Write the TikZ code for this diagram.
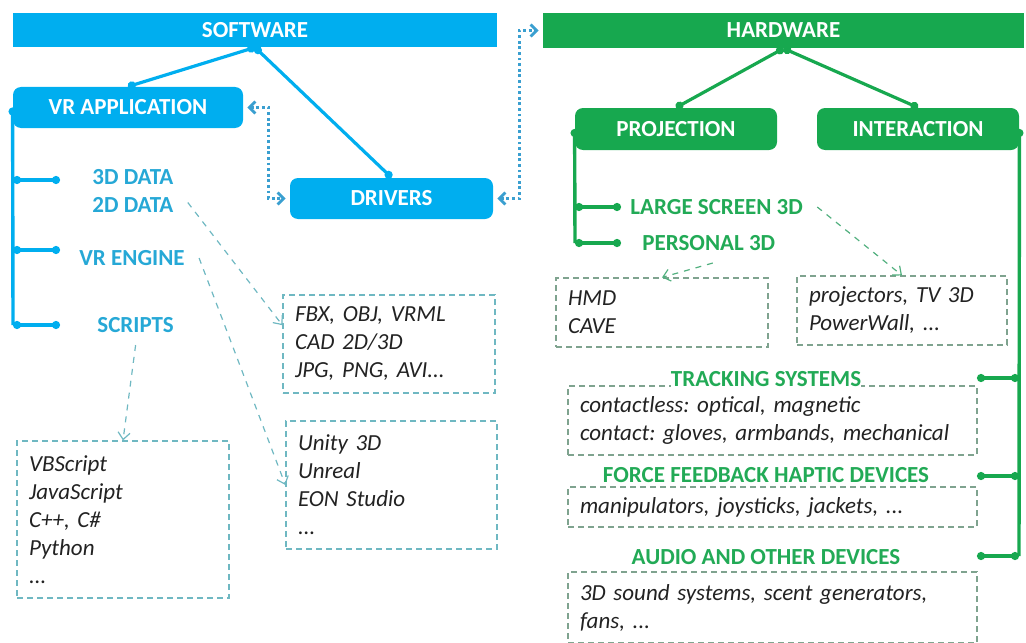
\documentclass[tikz,border=0pt]{standalone}
\usepackage{fontspec}
\setmainfont{Carlito}
\frenchspacing
\usetikzlibrary{arrows.meta}
\definecolor{blau}{HTML}{00AEEF}
\definecolor{blaut}{HTML}{26A8D6}
\definecolor{blaup}{HTML}{3A9FD0}
\definecolor{blauk}{HTML}{6FB8C2}
\definecolor{gruen}{HTML}{17A84F}
\definecolor{gruent}{HTML}{22AA56}
\definecolor{gruenk}{HTML}{7FA38F}
\definecolor{gruenp}{HTML}{52B07F}
\definecolor{schrift}{HTML}{222222}
\tikzset{
  balken/.style={rectangle,text=white,inner sep=0pt,font=\fontsize{11.5}{14}\selectfont\bfseries},
  knoten/.style={balken,rounded corners=4pt},
  marke/.style={inner sep=1pt,align=left,font=\fontsize{11.5}{14}\selectfont\bfseries},
  kasten/.style={draw,dash pattern=on 3pt off 2pt,line width=0.6pt,inner xsep=6pt,inner ysep=0pt,
    align=left,text=schrift,font=\fontsize{11.5}{14}\selectfont\itshape},
  ast/.style={line width=1.7pt},
  zweig/.style={line width=1.6pt,{Circle[length=4pt]}-{Circle[length=4pt]}},
  hinweis/.style={dashed,line width=0.6pt,-{Straight Barb[length=3.5pt,width=6pt]}},
  punkt/.style={blaup,line width=1.4pt,dash pattern=on 1.4pt off 1.4pt,
    {Straight Barb[length=3pt,width=6pt]}-{Straight Barb[length=3pt,width=6pt]},shorten <=2pt,shorten >=2pt},
}
\begin{document}
\begin{tikzpicture}[x=0.5pt,y=-0.5pt]
  \useasboundingbox (0,0) rectangle (1026,642);
  % Software
  \node[balken,fill=blau,minimum width=242pt,minimum height=17pt] (software) at (255,30) {SOFTWARE};
  \node[knoten,fill=blau,minimum width=115pt,minimum height=20.5pt] (vrapp) at (128,107.5) {VR APPLICATION};
  \node[knoten,fill=blau,minimum width=101.5pt,minimum height=20.5pt] (drivers) at (391.5,198.5) {DRIVERS};
  \draw[zweig,blau] (software.south) -- (vrapp.north);
  \draw[zweig,blau] (software.south) -- (drivers.north);
  \draw[punkt] (vrapp.east) -- ++(25,0) |- (drivers.west);
  % Baum VR Application
  \node[marke,blaut,anchor=west] (daten) at (90,191) {3D DATA\\2D DATA};
  \node[marke,blaut,anchor=west] (engine) at (77,258) {VR ENGINE};
  \node[marke,blaut,anchor=west] (skripte) at (95,325) {SCRIPTS};
  \coordinate (l1) at (13,180); \coordinate (l1e) at (60,180);
  \coordinate (l2) at (13,250); \coordinate (l2e) at (60,250);
  \coordinate (l3) at (13,325); \coordinate (l3e) at (60,325);
  \draw[ast,blau,{Circle[length=4pt]}-] (vrapp.west) -- (l3);
  \draw[zweig,blau] (l1) -- (l1e);
  \draw[zweig,blau] (l2) -- (l2e);
  \draw[zweig,blau] (l3) -- (l3e);
  % Kaesten links
  \node[kasten,draw=blauk,text width=94pt,minimum height=49pt] (fbx) at (389,344)
    {FBX, OBJ, VRML\\CAD 2D/3D\\JPG, PNG, AVI...};
  \node[kasten,draw=blauk,text width=93.5pt,minimum height=64pt] (unity) at (391.5,485)
    {Unity 3D\\Unreal\\EON Studio\\...};
  \node[kasten,draw=blauk,text width=94pt,minimum height=78.5pt] (skript) at (123,519.5)
    {VBScript\\JavaScript\\C++, C\#\\Python\\...};
  \draw[hinweis,blauk] ([xshift=6pt]daten.-15) -- (fbx.170);
  \draw[hinweis,blauk] ([xshift=6pt]engine.east) -- (unity.west);
  \draw[hinweis,blauk] ([yshift=-5pt]skripte.south) -- (skript.north);
  % Hardware
  \node[balken,fill=gruen,minimum width=240.5pt,minimum height=17.5pt] (hardware) at (783.5,30.5) {HARDWARE};
  \node[knoten,fill=gruen,minimum width=101pt,minimum height=21pt] (projection) at (676,129) {PROJECTION};
  \node[knoten,fill=gruen,minimum width=101pt,minimum height=21pt] (interaction) at (918,129) {INTERACTION};
  \draw[zweig,gruen] (hardware.south) -- (projection.north);
  \draw[zweig,gruen] (hardware.south) -- (interaction.north);
  \draw[punkt] (drivers.east) -- ++(26,0) |- (hardware.west);
  % Baum Projection
  \node[marke,gruent,anchor=west] (gross) at (628,207) {LARGE SCREEN 3D};
  \node[marke,gruent,anchor=west] (persoenlich) at (640,243) {PERSONAL 3D};
  \coordinate (p1) at (575,207); \coordinate (p1e) at (621,207);
  \coordinate (p2) at (575,243); \coordinate (p2e) at (621,243);
  \draw[ast,gruen,{Circle[length=4pt]}-] (projection.west) -- (p2);
  \draw[zweig,gruen] (p1) -- (p1e);
  \draw[zweig,gruen] (p2) -- (p2e);
  \node[kasten,draw=gruenk,text width=94pt,minimum height=34.5pt] (hmd) at (662,312.5) {HMD\\CAVE};
  \node[kasten,draw=gruenk,text width=93pt,minimum height=34.5pt] (pw) at (902,310.5) {projectors, TV 3D\\PowerWall, ...};
  \draw[hinweis,gruenp] ([xshift=6pt]gross.east) -- (pw.north);
  \draw[hinweis,gruenp] ([xshift=2pt,yshift=-5pt]persoenlich.south) -- (hmd.north);
  % Baum Interaction
  \node[kasten,draw=gruenk,text width=192.5pt,minimum height=34.5pt] (track) at (772.5,420.5)
    {contactless: optical, magnetic\\contact: gloves, armbands, mechanical};
  \node[kasten,draw=gruenk,text width=192.5pt,minimum height=20pt] (kraftk) at (772.5,507)
    {manipulators, joysticks, jackets, ...};
  \node[kasten,draw=gruenk,text width=192.5pt,minimum height=35.5pt] (audiok) at (772.5,607.5)
    {3D sound systems, scent generators,\\fans, ...};
  \node[marke,gruent,fill=white,inner xsep=0pt] (tracking) at (766,379) {TRACKING SYSTEMS};
  \node[marke,gruent] (kraft) at (766,475) {FORCE FEEDBACK HAPTIC DEVICES};
  \node[marke,gruent] (audio) at (766,557) {AUDIO AND OTHER DEVICES};
  \coordinate (i1) at (1019,378); \coordinate (i1e) at (977,378);
  \coordinate (i2) at (1019,476); \coordinate (i2e) at (977,476);
  \coordinate (i3) at (1019,556); \coordinate (i3e) at (977,556);
  \draw[ast,gruen,{Circle[length=4pt]}-] (interaction.east) -- (i3);
  \draw[zweig,gruen] (i1) -- (i1e);
  \draw[zweig,gruen] (i2) -- (i2e);
  \draw[zweig,gruen] (i3) -- (i3e);
\end{tikzpicture}
\end{document}
